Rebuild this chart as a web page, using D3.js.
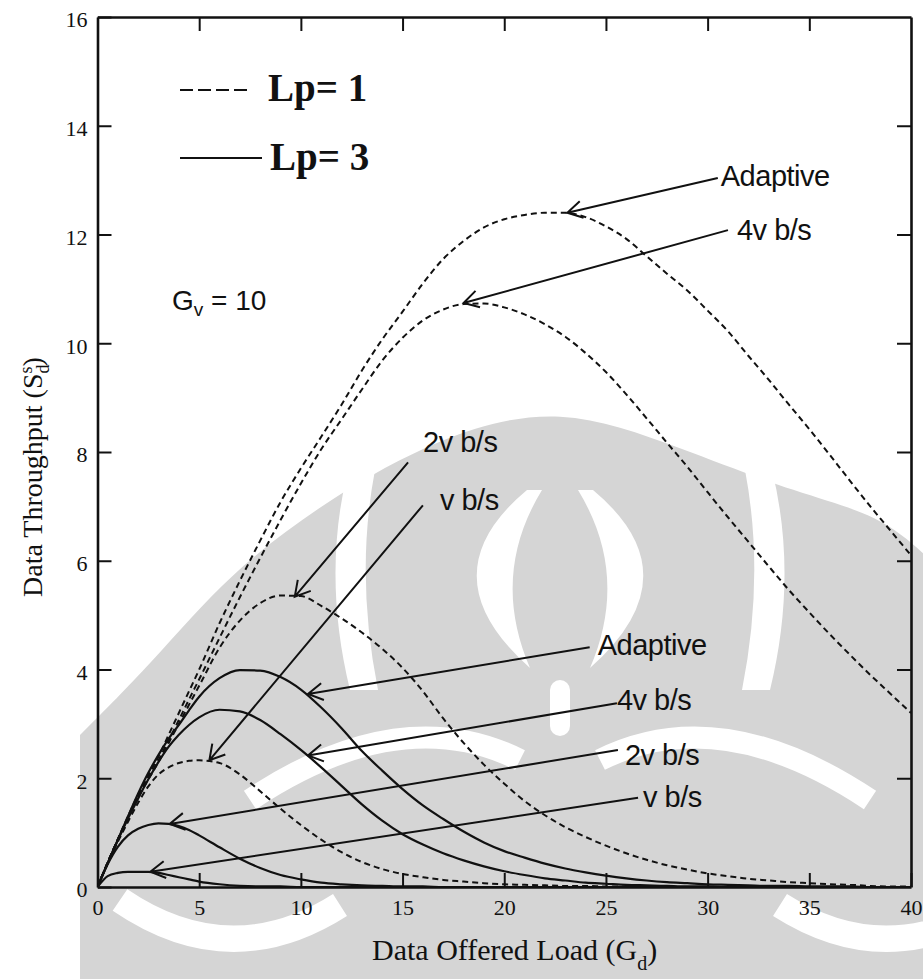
<!DOCTYPE html>
<html>
<head>
<meta charset="utf-8">
<title>Data Throughput vs Data Offered Load</title>
<script src="https://cdn.jsdelivr.net/npm/d3@7"></script>
<style>
  body { margin: 0; background: #fff; }
  .serif { font-family: "Liberation Serif", "Times New Roman", serif; fill: #111; }
  .sans { font-family: "Liberation Sans", Arial, sans-serif; fill: #111; }
</style>
</head>
<body>
<script>
// offered load grid shared by every curve
var loads = [0, 0.5, 1, 1.5, 2, 2.5, 3, 3.5, 4, 4.5, 5,
  6, 7, 8, 9, 10, 11, 12, 13, 14, 15,
  16, 17, 18, 19, 20, 21, 22, 23, 24, 25,
  26, 27, 28, 29, 30, 31, 32, 33, 34, 35,
  36, 37, 38, 39, 40];

// Lp = 1 (dashed)
var lp1Adaptive = [0, 0.45, 0.88, 1.3, 1.7, 2.05, 2.4, 2.8, 3.2, 3.6, 4.0,
  4.85, 5.63, 6.37, 7.08, 7.7, 8.28, 8.87, 9.5, 10.07, 10.58,
  11.1, 11.55, 11.88, 12.13, 12.28, 12.36, 12.4, 12.4, 12.32, 12.15,
  11.92, 11.6, 11.28, 10.97, 10.6, 10.22, 9.77, 9.33, 8.87, 8.42,
  7.95, 7.47, 7.0, 6.55, 6.1];
var lp1Rate4 = [0, 0.45, 0.87, 1.27, 1.66, 2.0, 2.33, 2.7, 3.07, 3.45, 3.82,
  4.58, 5.33, 6.05, 6.75, 7.42, 8.05, 8.6, 9.15, 9.68, 10.1,
  10.42, 10.62, 10.72, 10.73, 10.66, 10.53, 10.35, 10.12, 9.82, 9.47,
  9.06, 8.62, 8.17, 7.73, 7.26, 6.8, 6.35, 5.9, 5.46, 5.05,
  4.65, 4.27, 3.9, 3.55, 3.2];
var lp1Rate2 = [0, 0.45, 0.87, 1.27, 1.65, 1.98, 2.3, 2.65, 3.0, 3.35, 3.7,
  4.4, 4.9, 5.22, 5.36, 5.35, 5.17, 4.94, 4.68, 4.38, 4.03,
  3.6, 3.1, 2.65, 2.25, 1.9, 1.58, 1.32, 1.1, 0.92, 0.76,
  0.62, 0.5, 0.4, 0.32, 0.25, 0.2, 0.15, 0.12, 0.09, 0.07,
  0.05, 0.04, 0.02, 0.01, 0.01];
var lp1Rate1 = [0, 0.43, 0.83, 1.2, 1.55, 1.85, 2.07, 2.2, 2.28, 2.32, 2.33,
  2.28, 2.07, 1.76, 1.44, 1.14, 0.87, 0.64, 0.46, 0.33, 0.24,
  0.18, 0.13, 0.1, 0.07, 0.05, 0.04, 0.03, 0.02, 0.02, 0.01,
  0.01, 0.01, 0, 0, 0, 0, 0, 0, 0, 0,
  0, 0, 0, 0, 0];

// Lp = 3 (solid)
var lp3Adaptive = [0, 0.44, 0.87, 1.3, 1.72, 2.1, 2.43, 2.73, 2.98, 3.25, 3.5,
  3.84, 3.99, 3.98, 3.86, 3.63, 3.3, 2.92, 2.5, 2.14, 1.8,
  1.5, 1.25, 1.02, 0.82, 0.66, 0.54, 0.43, 0.34, 0.27, 0.21,
  0.16, 0.12, 0.09, 0.07, 0.05, 0.04, 0.03, 0.02, 0.02, 0.01,
  0.01, 0.01, 0, 0, 0];
var lp3Rate4 = [0, 0.44, 0.86, 1.26, 1.63, 1.98, 2.3, 2.58, 2.8, 2.98, 3.12,
  3.26, 3.23, 3.07, 2.81, 2.52, 2.2, 1.86, 1.52, 1.22, 0.97,
  0.78, 0.62, 0.49, 0.38, 0.29, 0.22, 0.16, 0.12, 0.08, 0.06,
  0.04, 0.03, 0.02, 0.01, 0.01, 0, 0, 0, 0, 0,
  0, 0, 0, 0, 0];
var lp3Rate2 = [0, 0.42, 0.74, 0.95, 1.07, 1.14, 1.17, 1.16, 1.12, 1.05, 0.95,
  0.73, 0.52, 0.35, 0.22, 0.14, 0.08, 0.05, 0.03, 0.02, 0.01,
  0.01, 0, 0, 0, 0, 0, 0, 0, 0, 0,
  0, 0, 0, 0, 0, 0, 0, 0, 0, 0,
  0, 0, 0, 0, 0];
var lp3Rate1 = [0, 0.2, 0.26, 0.28, 0.28, 0.28, 0.26, 0.22, 0.18, 0.14, 0.1,
  0.05, 0.02, 0.01, 0.01, 0, 0, 0, 0, 0, 0,
  0, 0, 0, 0, 0, 0, 0, 0, 0, 0,
  0, 0, 0, 0, 0, 0, 0, 0, 0, 0,
  0, 0, 0, 0, 0];

// curve labels and the points their arrows pick out
var rateLabels = ["Adaptive", "4v b/s", "2v b/s", "v b/s"];
var lp1Tips = [[23.1, 12.4], [18.0, 10.74], [9.7, 5.34], [5.5, 2.33]];
var lp3Tips = [[10.35, 3.55], [10.35, 2.42], [3.55, 1.16], [2.6, 0.28]];

// axis ticks
var xTicks = [0, 5, 10, 15, 20, 25, 30, 35, 40];
var yTicks = [0, 2, 4, 6, 8, 10, 12, 14, 16];

// where the arrows start (data units) and text offsets (px)
var lp1Tails = [[30.5, 13.04], [31.0, 12.08], [15.27, 7.81], [16.0, 7.02]];
var lp1TextOff = [[3, 8], [9, 10], [15, -10], [17, 5]];
var lp3Tails = [[24.2, 4.41], [25.54, 3.38], [25.59, 2.52], [26.58, 1.64]];
var lp3TextOff = [[8, 8], [0, 7], [7, 15], [5, 9]];

var svgWidth = 923;
var svgHeight = 979;
var margin = {top: 17, right: 12, bottom: 92, left: 97.5};
var width = svgWidth - margin.left - margin.right;
var height = svgHeight - margin.top - margin.bottom;

var svg = d3.select("body").append("svg").attr("width", svgWidth).attr("height", svgHeight);

// faint logo behind the plot
var wm = svg.append("g").attr("class", "watermark");
var grey = "#d5d5d5";
var domeEdge = [[80, 735], [150, 665], [230, 572], [330, 498], [440, 436], [560, 404],
  [680, 448], [800, 494], [880, 515], [925, 555]];
wm.append("path").attr("fill", grey)
  .attr("d", d3.line().curve(d3.curveBasis)(domeEdge) + "L925,979L80,979Z");
// side bands
wm.append("path").attr("fill", "#fff")
  .attr("d", "M772,470 Q798,575 770,690 L742,690 Q765,575 745,470 Z");
wm.append("path").attr("fill", "#fff")
  .attr("d", "M348,470 Q322,575 350,690 L378,690 Q355,575 375,470 Z");
// central crescents
wm.append("path").attr("fill", "#fff")
  .attr("d", "M527,490 Q425,575 530,668 Q490,575 542,490 Z");
wm.append("path").attr("fill", "#fff")
  .attr("d", "M593,490 Q695,575 590,668 Q630,575 578,490 Z");
wm.append("rect").attr("x", 550).attr("y", 680).attr("width", 20).attr("height", 56).attr("rx", 10).attr("fill", "#fff");
// lower arcs
wm.append("path").attr("fill", "none").attr("stroke", "#fff").attr("stroke-width", 26)
  .attr("d", "M120,900 Q230,975 340,905");
wm.append("path").attr("fill", "none").attr("stroke", "#fff").attr("stroke-width", 26)
  .attr("d", "M780,905 Q890,975 1000,900");
wm.append("path").attr("fill", "none").attr("stroke", "#fff").attr("stroke-width", 22)
  .attr("d", "M250,800 Q400,700 520,760");
wm.append("path").attr("fill", "none").attr("stroke", "#fff").attr("stroke-width", 22)
  .attr("d", "M870,800 Q720,700 600,760");

var chart = svg.append("g").attr("transform", `translate(${margin.left},${margin.top})`);

var x = d3.scaleLinear().domain([0, 40]).range([0, width]);
var y = d3.scaleLinear().domain([0, 16]).range([height, 0]);

chart.append("clipPath").attr("id", "plot-clip")
  .append("rect").attr("width", width).attr("height", height);

// axes, all ticks pointing inward
function styleAxis(g) {
  g.select(".domain").attr("stroke", "#111").attr("stroke-width", 2.6);
  g.selectAll(".tick line").attr("stroke", "#111").attr("stroke-width", 2);
  g.selectAll(".tick text").attr("class", "serif").attr("font-size", 22).attr("fill", "#111");
}
chart.append("g")
  .attr("transform", "translate(0," + height + ")")
  .call(d3.axisBottom(x).tickValues(xTicks).tickSizeInner(-14).tickSizeOuter(0).tickPadding(12))
  .call(styleAxis);
chart.append("g")
  .call(d3.axisLeft(y).tickValues(yTicks).tickSizeInner(-14).tickSizeOuter(0).tickPadding(10))
  .call(styleAxis)
  .selectAll(".tick text").attr("dy", "0.45em");
chart.append("g")
  .call(d3.axisTop(x).tickValues(xTicks.slice(1, -1)).tickSizeInner(-14).tickSizeOuter(0).tickFormat(""))
  .call(styleAxis);
chart.append("g")
  .attr("transform", "translate(" + width + ",0)")
  .call(d3.axisRight(y).tickValues(yTicks.slice(1, -1)).tickSizeInner(-14).tickSizeOuter(0).tickFormat(""))
  .call(styleAxis);

// curves
var line = d3.line()
  .x(function(d) { return x(d[0]); })
  .y(function(d) { return y(d[1]); })
  .curve(d3.curveMonotoneX);

var curves = [
  {values: lp1Adaptive, dashed: true},
  {values: lp1Rate4, dashed: true},
  {values: lp1Rate2, dashed: true},
  {values: lp1Rate1, dashed: true},
  {values: lp3Adaptive, dashed: false},
  {values: lp3Rate4, dashed: false},
  {values: lp3Rate2, dashed: false},
  {values: lp3Rate1, dashed: false}
];

chart.append("g").attr("clip-path", "url(#plot-clip)")
  .selectAll("path")
  .data(curves)
  .enter().append("path")
  .attr("d", function(c) { return line(loads.map(function(g, i) { return [g, c.values[i]]; })); })
  .attr("fill", "none")
  .attr("stroke", "#111")
  .attr("stroke-width", function(c) { return c.dashed ? 2 : 2.2; })
  .attr("stroke-dasharray", function(c) { return c.dashed ? "6,4" : null; });

// labelled arrows
function drawArrows(tips, tails, offsets) {
  rateLabels.forEach(function(label, i) {
    var tx = x(tips[i][0]), ty = y(tips[i][1]);
    var sx = x(tails[i][0]), sy = y(tails[i][1]);
    var len = Math.hypot(sx - tx, sy - ty);
    var ux = (sx - tx) / len, uy = (sy - ty) / len;
    var head = 17, ang = 30 * Math.PI / 180;
    var h1 = [tx + head * (ux * Math.cos(ang) - uy * Math.sin(ang)), ty + head * (ux * Math.sin(ang) + uy * Math.cos(ang))];
    var h2 = [tx + head * (ux * Math.cos(-ang) - uy * Math.sin(-ang)), ty + head * (ux * Math.sin(-ang) + uy * Math.cos(-ang))];
    chart.append("path")
      .attr("d", "M" + sx + "," + sy + "L" + tx + "," + ty + "M" + h1 + "L" + tx + "," + ty + "L" + h2)
      .attr("fill", "none")
      .attr("stroke", "#111")
      .attr("stroke-width", 2);
    chart.append("text")
      .attr("class", "sans")
      .attr("x", sx + offsets[i][0])
      .attr("y", sy + offsets[i][1])
      .attr("font-size", 29)
      .attr("letter-spacing", -0.5)
      .text(label);
  });
}
drawArrows(lp1Tips, lp1Tails, lp1TextOff);
drawArrows(lp3Tips, lp3Tails, lp3TextOff);

// legend
svg.append("line").attr("x1", 180).attr("x2", 249).attr("y1", 90).attr("y2", 90)
  .attr("stroke", "#111").attr("stroke-width", 2.2).attr("stroke-dasharray", "13,5");
svg.append("text").attr("class", "serif").attr("x", 268).attr("y", 101)
  .attr("font-size", 39).attr("font-weight", "bold").text("Lp= 1");
svg.append("line").attr("x1", 180).attr("x2", 262).attr("y1", 158).attr("y2", 158)
  .attr("stroke", "#111").attr("stroke-width", 2.2);
svg.append("text").attr("class", "serif").attr("x", 270).attr("y", 170)
  .attr("font-size", 39).attr("font-weight", "bold").text("Lp= 3");

// voice load note
var gv = svg.append("text").attr("class", "sans").attr("x", 172).attr("y", 310).attr("font-size", 28);
gv.append("tspan").text("G");
gv.append("tspan").attr("font-size", 19).attr("dy", 6).text("v");
gv.append("tspan").attr("dy", -6).text(" = 10");

// axis titles
var xt = svg.append("text").attr("class", "serif").attr("x", 372).attr("y", 960).attr("font-size", 30);
xt.append("tspan").text("Data Offered Load (G");
xt.append("tspan").attr("font-size", 20).attr("dy", 10).text("d");
xt.append("tspan").attr("dy", -10).text(")");

var yt = svg.append("text").attr("class", "serif").attr("transform", "translate(42,597) rotate(-90)").attr("font-size", 28);
yt.append("tspan").text("Data Throughput (S");
yt.append("tspan").attr("font-size", 18).attr("dy", 7).text("d");
yt.append("tspan").attr("font-size", 18).attr("dx", -9).attr("dy", -17).text("s");
yt.append("tspan").attr("dy", 10).text(")");
</script>
</body>
</html>
